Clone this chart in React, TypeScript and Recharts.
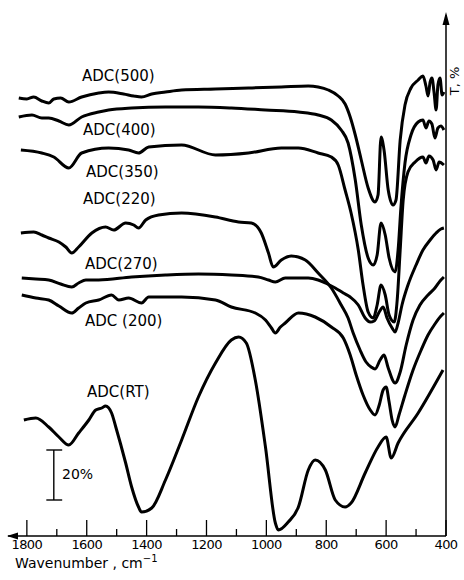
import { Line, LineChart, ReferenceLine, XAxis, YAxis } from 'recharts';

// -----------------------------------------------------------------------------
// Data: IR transmission spectra (wavenumber in cm-1, offset transmittance in %)
// -----------------------------------------------------------------------------

const majorTicks = [1800, 1600, 1400, 1200, 1000, 800, 600, 400];
const allTicks = [1800, 1700, 1600, 1500, 1400, 1300, 1200, 1100, 1000, 900, 800, 700, 600, 500, 400];

const adc500 = [
  [1827, 175.2], [1800, 174.8], [1777, 175.6], [1750, 174.0], [1727, 173.2], [1710, 174.8],
  [1687, 175.2], [1660, 173.6], [1617, 175.6], [1560, 177.2], [1527, 177.6], [1477, 176.8],
  [1443, 176.0], [1417, 175.6], [1383, 176.8], [1337, 177.6], [1283, 178.4], [1170, 178.8],
  [1060, 179.2], [950, 179.6], [860, 180.0], [827, 179.6], [793, 178.4], [760, 176.0],
  [737, 172.8], [720, 167.6], [703, 160.4], [683, 150.4], [660, 139.2], [637, 133.6],
  [627, 136.4], [617, 159.6], [607, 154.4], [593, 138.4], [577, 132.4], [567, 134.4],
  [553, 158.4], [537, 172.4], [517, 179.2], [493, 182.4], [477, 184.0], [467, 180.0],
  [460, 176.0], [453, 181.6], [447, 183.2], [440, 177.6], [433, 170.4], [427, 180.4],
  [420, 183.2], [413, 176.4], [407, 177.6],
];

const adc400 = [
  [1827, 167.6], [1783, 168.4], [1750, 167.2], [1727, 167.2], [1693, 166.0], [1660, 164.4],
  [1617, 167.6], [1560, 169.6], [1527, 170.4], [1450, 171.2], [1337, 171.6], [1227, 171.6],
  [1117, 171.2], [1003, 170.4], [893, 169.6], [827, 168.4], [783, 166.4], [750, 162.4],
  [727, 157.2], [703, 142.4], [683, 124.4], [660, 111.2], [643, 108.4], [630, 112.4],
  [617, 125.2], [603, 120.4], [590, 111.2], [570, 105.6], [560, 114.4], [550, 132.4],
  [537, 149.2], [517, 160.4], [493, 165.6], [477, 166.4], [467, 163.2], [457, 166.0],
  [447, 164.8], [437, 159.2], [427, 163.2], [417, 164.0], [407, 162.4],
];

const adc350 = [
  [1820, 154.4], [1750, 153.2], [1710, 151.6], [1660, 147.2], [1617, 153.2], [1527, 155.2],
  [1460, 154.4], [1427, 153.2], [1393, 155.6], [1283, 156.4], [1170, 152.4], [1060, 153.2],
  [950, 155.2], [893, 155.2], [827, 153.2], [783, 151.6], [760, 148.4], [737, 138.4],
  [717, 129.2], [693, 114.4], [677, 100.4], [660, 89.6], [643, 87.2], [630, 92.4],
  [617, 100.4], [603, 96.4], [590, 88.4], [573, 85.6], [563, 94.4], [553, 114.4],
  [543, 134.4], [527, 145.6], [503, 149.6], [477, 151.6], [467, 149.2], [457, 152.0],
  [443, 150.4], [433, 146.4], [423, 149.6], [407, 148.4],
];

const adc220 = [
  [1820, 121.2], [1777, 121.6], [1750, 120.4], [1727, 119.2], [1693, 117.6], [1670, 115.6],
  [1650, 113.2], [1627, 115.6], [1583, 121.2], [1537, 123.6], [1510, 122.4], [1470, 125.2],
  [1443, 124.4], [1427, 123.2], [1403, 126.4], [1360, 128.4], [1283, 129.2], [1170, 127.6],
  [1093, 125.6], [1050, 125.2], [1017, 121.2], [993, 113.2], [977, 107.6], [950, 110.4],
  [917, 112.0], [870, 110.4], [827, 105.2], [783, 99.2], [750, 92.4], [727, 87.2],
  [710, 81.2], [687, 74.4], [667, 69.6], [650, 67.6], [637, 66.8], [620, 70.4],
  [607, 72.4], [593, 67.2], [570, 61.2], [553, 65.6], [533, 76.4], [510, 86.4],
  [487, 92.4], [460, 96.4], [437, 99.2], [417, 102.4], [407, 103.6],
];

const adc270 = [
  [1817, 103.2], [1770, 102.8], [1727, 102.4], [1687, 100.8], [1650, 99.6], [1627, 101.2],
  [1603, 102.4], [1560, 102.4], [1450, 103.6], [1337, 104.4], [1227, 104.8], [1117, 104.4],
  [1027, 103.6], [993, 102.4], [970, 101.6], [937, 103.2], [860, 103.2], [827, 102.4],
  [803, 101.2], [770, 99.2], [743, 97.2], [720, 95.6], [693, 92.4], [670, 87.2],
  [653, 85.6], [640, 86.0], [623, 89.6], [610, 91.6], [597, 87.2], [580, 83.2],
  [570, 81.6], [560, 85.2], [547, 92.4], [527, 100.4], [500, 108.4], [477, 114.4],
  [453, 118.4], [433, 121.2], [417, 122.8], [407, 123.2],
];

const adc200 = [
  [1817, 96.4], [1770, 95.2], [1727, 94.4], [1693, 92.0], [1650, 89.2], [1627, 91.2],
  [1603, 93.2], [1560, 94.4], [1517, 96.4], [1493, 94.4], [1460, 95.2], [1417, 93.2],
  [1393, 95.6], [1283, 95.6], [1170, 94.4], [1117, 91.6], [1037, 89.2], [1003, 86.4],
  [983, 83.2], [970, 81.2], [953, 83.6], [937, 85.2], [893, 89.2], [837, 87.6],
  [783, 83.6], [743, 79.2], [720, 72.4], [700, 64.4], [677, 56.4], [653, 50.4],
  [637, 48.4], [623, 52.4], [610, 58.4], [600, 59.6], [590, 53.6], [580, 46.4],
  [570, 43.6], [557, 48.4], [537, 56.4], [510, 66.4], [483, 74.4], [460, 80.4],
  [437, 84.8], [417, 88.0], [407, 89.2],
];

const adcRT = [
  [1810, 46.4], [1770, 47.2], [1727, 43.6], [1693, 39.6], [1660, 36.4], [1627, 41.2],
  [1593, 46.4], [1570, 50.4], [1550, 51.2], [1537, 52.0], [1517, 49.2], [1503, 43.6],
  [1470, 29.2], [1450, 19.6], [1427, 11.6], [1417, 9.6], [1383, 11.2], [1337, 22.4],
  [1283, 38.4], [1227, 55.6], [1170, 69.2], [1117, 78.4], [1093, 79.6], [1067, 77.2],
  [1037, 62.4], [1003, 35.6], [970, 5.2], [960, 2.4], [927, 5.6], [893, 11.6],
  [860, 26.4], [837, 30.4], [803, 26.4], [770, 14.4], [737, 11.6], [717, 13.2],
  [670, 25.2], [627, 35.6], [600, 39.6], [583, 31.2], [560, 37.2], [493, 49.2],
  [410, 66.4],
];

const seriesNames = ['ADC(500)', 'ADC(400)', 'ADC(350)', 'ADC(220)', 'ADC(270)', 'ADC (200)', 'ADC(RT)'];
const seriesData = [adc500, adc400, adc350, adc220, adc270, adc200, adcRT];

// 20 % scale bar
const barW = 1710;
const barCapLeft = 1735;
const barCapRight = 1682;
const barLow = 14.4;
const barHigh = 34.4;

// -----------------------------------------------------------------------------
// Layout
// -----------------------------------------------------------------------------

const W = 464;
const H = 580;
const M = { top: 15, right: 18, bottom: 0, left: 8 };
const AXIS_H = 44;
const FONT = '"DejaVu Sans", sans-serif';

// label anchors (left, baseline) in page pixels
const labelPos: [number, number][] = [
  [82, 81], [83, 135], [86, 177], [83, 204], [85, 269], [85, 326], [87, 397],
];

const WaveTick = (props: any) => {
  const { x, y, payload } = props;
  const major = majorTicks.includes(payload.value);
  return (
    <g>
      <line x1={x} x2={x} y1={y} y2={y - (major ? 16 : 7)} stroke="#000" strokeWidth={1.3} />
      {major && (
        <text
          x={x}
          y={y + 13}
          textAnchor="middle"
          fontFamily={FONT}
          fontSize={13}
          letterSpacing={-0.6}
          fill="#000"
        >
          {payload.value}
        </text>
      )}
    </g>
  );
};

export default function App() {
  const plotRight = W - M.right;
  const plotBottom = H - AXIS_H;

  return (
    <div style={{ position: 'absolute', left: 0, top: 0, width: W, height: H, background: '#fff' }}>
      <LineChart width={W} height={H} margin={M}>
        <XAxis
          type="number"
          dataKey="w"
          domain={[400, 1863]}
          reversed
          allowDataOverflow
          ticks={allTicks}
          interval={0}
          height={AXIS_H}
          tickSize={0}
          tickMargin={0}
          tickLine={false}
          axisLine={{ stroke: '#000', strokeWidth: 1.5 }}
          tick={<WaveTick />}
        />
        <YAxis type="number" dataKey="t" domain={[0, 208.4]} allowDataOverflow hide />
        <ReferenceLine x={400} stroke="#000" strokeWidth={1.5} ifOverflow="visible" />
        <ReferenceLine
          segment={[{ x: barW, y: barLow }, { x: barW, y: barHigh }]}
          stroke="#000"
          strokeWidth={1.4}
          ifOverflow="visible"
        />
        <ReferenceLine
          segment={[{ x: barCapLeft, y: barLow }, { x: barCapRight, y: barLow }]}
          stroke="#000"
          strokeWidth={1.4}
          ifOverflow="visible"
        />
        <ReferenceLine
          segment={[{ x: barCapLeft, y: barHigh }, { x: barCapRight, y: barHigh }]}
          stroke="#000"
          strokeWidth={1.4}
          ifOverflow="visible"
        />
        {seriesData.map((rows, i) => (
          <Line
            key={seriesNames[i]}
            name={seriesNames[i]}
            data={rows.map(([w, t]) => ({ w, t }))}
            dataKey="t"
            type="monotone"
            stroke="#000"
            strokeWidth={3}
            dot={false}
            isAnimationActive={false}
          />
        ))}
      </LineChart>

      <svg
        width={W}
        height={H}
        style={{ position: 'absolute', left: 0, top: 0, pointerEvents: 'none' }}
      >
        {/* axis arrows */}
        <polygon points={`${M.left - 1},${plotBottom} ${M.left + 10},${plotBottom - 3.5} ${M.left + 10},${plotBottom + 3.5}`} fill="#000" />
        <polygon points={`${plotRight},${M.top - 3} ${plotRight - 3.5},${M.top + 10} ${plotRight + 3.5},${M.top + 10}`} fill="#000" />

        <text
          transform={`translate(459, 81) rotate(-90)`}
          textAnchor="middle"
          fontFamily={FONT}
          fontSize={13}
          fill="#000"
        >
          T, %
        </text>

        {seriesNames.map((name, i) => (
          <text key={name} x={labelPos[i][0]} y={labelPos[i][1]} fontFamily={FONT} fontSize={15} fill="#000">
            {name}
          </text>
        ))}

        <text x={62} y={479} fontFamily={FONT} fontSize={14} fill="#000">
          20%
        </text>

        <text x={15} y={568} fontFamily={FONT} fontSize={14} fill="#000">
          Wavenumber , cm
          <tspan fontSize={10} dy={-6}>−1</tspan>
        </text>
      </svg>
    </div>
  );
}
